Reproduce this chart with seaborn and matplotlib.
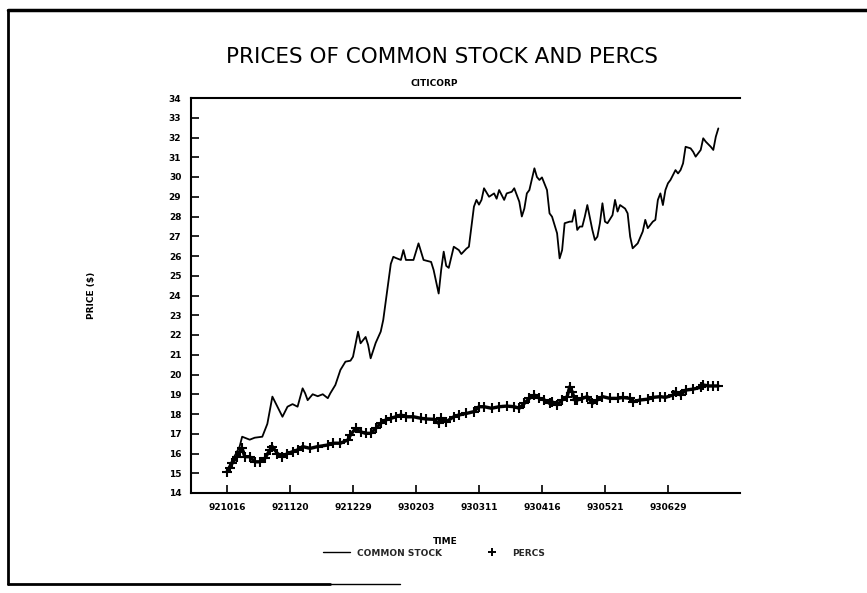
import matplotlib
matplotlib.use("Agg")
import matplotlib.pyplot as plt
import seaborn as sns
import pandas as pd
from matplotlib.lines import Line2D

# trading-day index (0 = 921016) and closing prices
stock_day = [0, 5, 6, 9, 11, 14, 16, 18, 22, 24, 26, 28, 30, 31, 32, 34, 36, 38, 40, 41,
             43, 45, 47, 49, 50, 52, 53, 55, 56, 57, 59, 61, 62, 63, 65, 66, 67, 69, 70, 71,
             74, 76, 78, 81, 82, 84, 85, 86, 87, 88, 90, 92, 93, 95, 96, 98, 99, 100, 101, 102,
             104, 106, 107, 108, 110, 111, 113, 114, 116, 117, 118, 119, 120, 122, 123, 124, 125, 127, 128, 129,
             131, 132, 133, 134, 136, 137, 138, 139, 140, 141, 142, 143, 145, 146, 147, 148, 149, 150, 151, 153,
             154, 155, 156, 158, 159, 160, 161, 163, 165, 166, 167, 169, 170, 171, 172, 173, 174, 175, 176, 178,
             179, 180, 181, 182, 184, 185, 186, 188, 189, 190, 192, 193, 194, 195]
stock_price = [15.15, 16.35, 16.85, 16.7, 16.8, 16.85, 17.5, 18.88, 17.86, 18.37, 18.5, 18.37, 19.3, 19.05, 18.7, 19.0, 18.9, 19.0, 18.8, 19.05,
               19.47, 20.23, 20.65, 20.7, 20.9, 22.17, 21.58, 21.9, 21.5, 20.82, 21.6, 22.17, 22.76, 23.7, 25.6, 25.96, 25.9, 25.8, 26.3, 25.8,
               25.8, 26.64, 25.8, 25.7, 25.29, 24.1, 25.3, 26.22, 25.5, 25.4, 26.47, 26.3, 26.1, 26.37, 26.47, 28.5, 28.84, 28.6, 28.84, 29.43,
               29.0, 29.17, 28.9, 29.34, 28.84, 29.17, 29.25, 29.43, 28.75, 28.0, 28.4, 29.17, 29.34, 30.44, 30.0, 29.85, 29.98, 29.34, 28.16, 27.99,
               27.15, 25.88, 26.3, 27.66, 27.74, 27.74, 28.33, 27.32, 27.49, 27.49, 27.99, 28.58, 27.32, 26.81, 26.98, 27.66, 28.67, 27.74, 27.66, 28.07,
               28.84, 28.25, 28.58, 28.4, 28.16, 26.98, 26.39, 26.64, 27.24, 27.83, 27.41, 27.74, 27.83, 28.84, 29.17, 28.58, 29.34, 29.68, 29.85, 30.35,
               30.18, 30.35, 30.69, 31.53, 31.45, 31.28, 31.03, 31.37, 31.96, 31.79, 31.53, 31.37, 32.04, 32.46]

percs_day = [0, 1, 2, 4, 5, 6, 7, 9, 11, 13, 15, 17, 18, 20, 22, 24, 26, 28, 30, 33,
             36, 40, 42, 45, 48, 49, 51, 53, 55, 57, 59, 61, 63, 65, 67, 69, 71, 74, 77, 79,
             82, 84, 85, 87, 90, 92, 95, 98, 100, 102, 105, 108, 111, 114, 116, 118, 120, 122, 124, 126,
             128, 129, 131, 133, 135, 136, 137, 138, 139, 141, 143, 145, 147, 149, 152, 155, 157, 160, 161, 164,
             167, 169, 172, 174, 177, 178, 180, 182, 185, 188, 189, 191, 193, 195]
percs_price = [15.08, 15.25, 15.5, 15.84, 16.09, 16.26, 15.84, 15.84, 15.58, 15.58, 15.75, 16.18, 16.35, 16.0, 15.84, 16.0, 16.09, 16.18, 16.35, 16.26,
               16.35, 16.43, 16.52, 16.52, 16.69, 16.94, 17.27, 17.1, 17.02, 17.02, 17.27, 17.53, 17.7, 17.78, 17.86, 17.95, 17.86, 17.86, 17.78, 17.75,
               17.73, 17.53, 17.78, 17.61, 17.86, 17.95, 18.03, 18.12, 18.37, 18.37, 18.29, 18.37, 18.4, 18.37, 18.29, 18.54, 18.79, 18.96, 18.79, 18.71,
               18.54, 18.62, 18.46, 18.71, 18.88, 19.38, 19.13, 18.71, 18.71, 18.79, 18.88, 18.54, 18.71, 18.88, 18.79, 18.79, 18.84, 18.79, 18.62, 18.71,
               18.75, 18.84, 18.88, 18.84, 18.96, 19.13, 18.96, 19.21, 19.26, 19.35, 19.47, 19.42, 19.42, 19.42]

tick_days = [0, 25, 50, 75, 100, 125, 150, 175]
tick_labels = ['921016', '921120', '921229', '930203', '930311', '930416', '930521', '930629']
y_ticks = list(range(14, 35))

stock = pd.DataFrame({'day': stock_day, 'price': stock_price})
percs = pd.DataFrame({'day': percs_day, 'price': percs_price})

sns.set_theme(style="ticks")
plt.rcParams['font.family'] = ['DejaVu Sans']

fig = plt.figure(figsize=(8.67, 5.93), dpi=100)
ax = fig.add_axes([191 / 867, 1 - 493 / 593, 549 / 867, 395 / 593])

sns.lineplot(data=stock, x='day', y='price', ax=ax, color='black', linewidth=1.3, legend=False)
sns.lineplot(data=percs, x='day', y='price', ax=ax, color='black', linewidth=2.4,
             marker='+', markersize=7, markeredgewidth=1.5, markeredgecolor='black', legend=False)

ax.set_xlim(-14.3, 203.6)
ax.set_ylim(14, 34)
ax.set_xticks(tick_days)
ax.set_xticklabels(tick_labels)
ax.set_yticks(y_ticks)
ax.set_yticklabels([str(v) for v in y_ticks])
ax.tick_params(direction='in', length=6, width=1.2, colors='black', labelsize=6.5, pad=7)
for label in ax.get_xticklabels() + ax.get_yticklabels():
    label.set_fontweight('bold')

for side in ['left', 'top', 'bottom']:
    ax.spines[side].set_linewidth(1.5)
    ax.spines[side].set_color('black')
ax.spines['right'].set_visible(False)

ax.set_xlabel('TIME', fontsize=6.5, fontweight='bold', color='black')
ax.xaxis.set_label_coords((445 - 191) / 549, (493 - 537) / 395)
ax.set_ylabel('PRICE ($)', fontsize=6.5, fontweight='bold', color='black')
ax.yaxis.set_label_coords((96 - 191) / 549, 0.5)

fig.text(442 / 867, 1 - 57 / 593, 'PRICES OF COMMON STOCK AND PERCS', ha='center', va='center',
         fontsize=15.5, color='black')
fig.text(434 / 867, 1 - 84 / 593, 'CITICORP', ha='center', va='center', fontsize=6.5,
         fontweight='bold', color='black')

# manual legend below the axis
handles = [Line2D([], [], color='black', linewidth=1),
           Line2D([], [], color='black', linestyle='none', marker='+', markersize=6, markeredgewidth=1.4)]
fig.legend(handles=handles, labels=['COMMON STOCK', 'PERCS'], loc='center', ncol=2,
           bbox_to_anchor=(434 / 867, 1 - 553 / 593), frameon=False, handlelength=3,
           columnspacing=4, prop={'size': 6.5, 'weight': 'bold'})

# scanned page border
fig.add_artist(Line2D([8 / 867, 1], [1 - 10 / 593] * 2, transform=fig.transFigure, color='black', linewidth=2.5))
fig.add_artist(Line2D([8 / 867] * 2, [1 - 10 / 593, 1 - 584 / 593], transform=fig.transFigure, color='black', linewidth=2))
fig.add_artist(Line2D([8 / 867, 330 / 867], [1 - 584 / 593] * 2, transform=fig.transFigure, color='black', linewidth=2))
fig.add_artist(Line2D([330 / 867, 400 / 867], [1 - 584 / 593] * 2, transform=fig.transFigure, color='black', linewidth=1))

fig.savefig('out.png', dpi=100)
